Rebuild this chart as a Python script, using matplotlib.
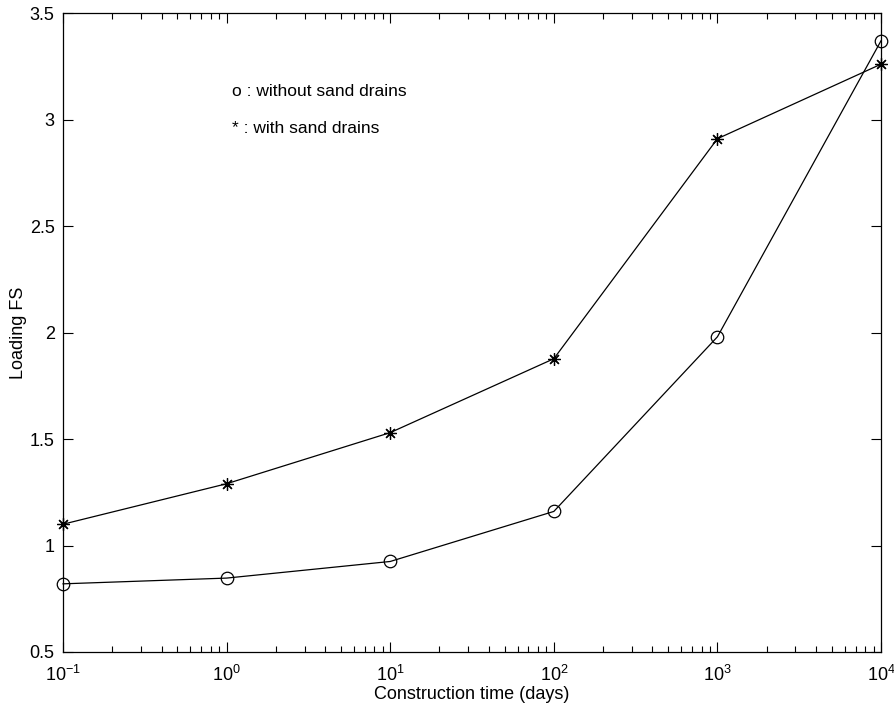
import matplotlib
matplotlib.use("Agg")
import matplotlib.pyplot as plt
from matplotlib.ticker import FixedLocator, LogLocator, NullFormatter

plt.rcParams['font.family'] = ['Liberation Sans', 'DejaVu Sans']
plt.rcParams['mathtext.fontset'] = 'custom'
plt.rcParams['mathtext.rm'] = 'Liberation Sans'
plt.rcParams['mathtext.it'] = 'Liberation Sans'

time_days = [0.1, 1, 10, 100, 1000, 10000]
fs_without = [0.82, 0.847, 0.925, 1.16, 1.98, 3.37]
fs_with = [1.10, 1.29, 1.53, 1.877, 2.91, 3.26]
y_ticks = [0.5, 1, 1.5, 2, 2.5, 3, 3.5]
y_tick_labels = ['0.5', '1', '1.5', '2', '2.5', '3', '3.5']

fig = plt.figure(figsize=(8.94, 7.06), dpi=100)
ax = fig.add_axes([0.0705, 0.0765, 0.915, 0.905])

ax.plot(time_days, fs_without, color='black', lw=0.9, marker='o', ms=9,
        mfc='none', mec='black', mew=0.9, clip_on=False)
ax.plot(time_days, fs_with, color='black', lw=0.9, marker=(8, 2, 0), ms=9,
        mec='black', mew=0.9, clip_on=False)

ax.set_xscale('log')
ax.set_xlim(0.1, 10000)
ax.set_ylim(0.5, 3.5)
ax.yaxis.set_major_locator(FixedLocator(y_ticks))
ax.set_yticklabels(y_tick_labels)
ax.xaxis.set_minor_locator(LogLocator(base=10, subs=range(2, 10), numticks=20))
ax.xaxis.set_minor_formatter(NullFormatter())

ax.tick_params(which='both', direction='in', top=True, right=True,
               labelsize=13, width=0.8)
ax.tick_params(which='major', length=7)
ax.tick_params(which='minor', length=4)
ax.tick_params(axis='x', which='major', pad=9)
ax.tick_params(axis='y', which='major', pad=6)
for s in ax.spines.values():
    s.set_linewidth(0.9)

ax.set_xlabel('Construction time (days)', fontsize=13, labelpad=1)
ax.set_ylabel('Loading FS', fontsize=13, labelpad=2)

ax.text(1.08, 3.13, 'o : without sand drains', fontsize=12.5, va='center')
ax.text(1.08, 2.96, '* : with sand drains', fontsize=12.5, va='center')

fig.savefig('out.png', dpi=100)
